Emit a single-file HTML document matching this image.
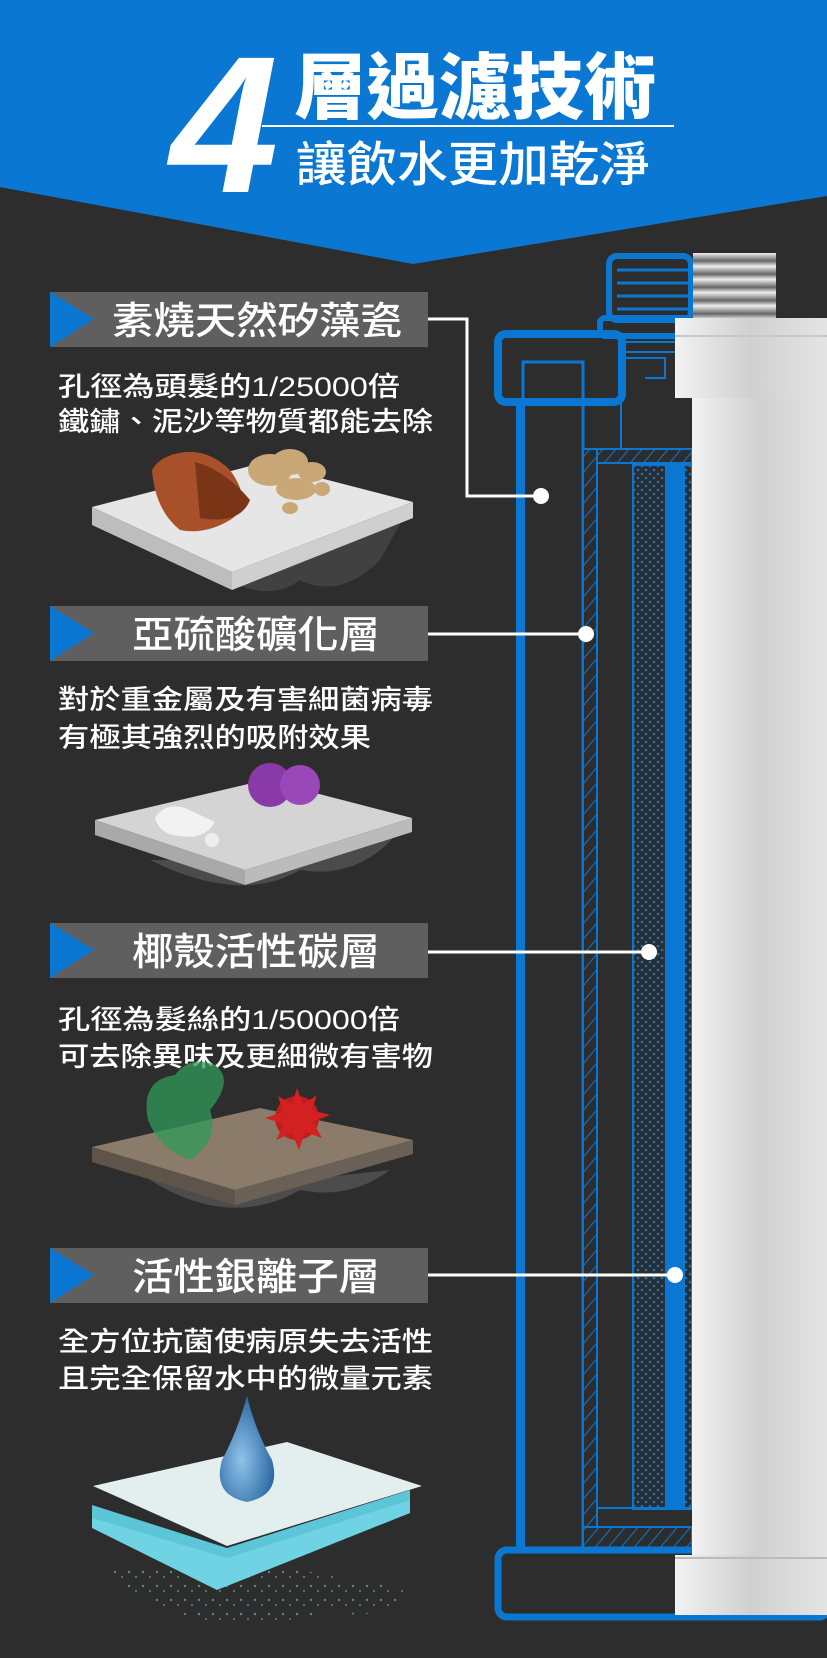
<!DOCTYPE html>
<html><head><meta charset="utf-8"><style>
html,body{margin:0;padding:0;background:#2d2d2d}
svg{display:block}
text{font-family:"Liberation Sans","Noto Sans CJK TC","Noto Sans CJK SC",sans-serif;font-weight:500;fill:#fff}
</style></head><body>
<svg width="827" height="1658" viewBox="0 0 827 1658" xmlns="http://www.w3.org/2000/svg">
<defs>
<pattern id="hatch" width="10" height="10" patternUnits="userSpaceOnUse" patternTransform="rotate(40)">
<rect width="10" height="10" fill="#2d2d2d"/><line x1="0" y1="0" x2="0" y2="10" stroke="#0a78d2" stroke-width="2"/></pattern>
<pattern id="dots" width="8" height="8" patternUnits="userSpaceOnUse">
<rect width="8" height="8" fill="#2d2d2d"/><circle cx="2" cy="2" r="1.3" fill="#0a78d2"/><circle cx="6" cy="6" r="1.3" fill="#0a78d2"/></pattern>
<pattern id="spk" width="14" height="14" patternUnits="userSpaceOnUse">
<circle cx="3" cy="4" r="1.2" fill="#6cc8d8"/><circle cx="10" cy="9" r="1" fill="#6cc8d8"/></pattern>
<linearGradient id="cyl" x1="0" x2="1"><stop offset="0" stop-color="#f2f2f2"/><stop offset=".5" stop-color="#d0d0d0"/><stop offset="1" stop-color="#e4e4e4"/></linearGradient>
<linearGradient id="metal" x1="0" y1="0" x2="0" y2="1">
<stop offset="0" stop-color="#eee"/><stop offset=".12" stop-color="#666"/><stop offset=".2" stop-color="#eee"/><stop offset=".32" stop-color="#666"/><stop offset=".4" stop-color="#eee"/><stop offset=".52" stop-color="#666"/><stop offset=".6" stop-color="#eee"/><stop offset=".72" stop-color="#666"/><stop offset=".8" stop-color="#eee"/><stop offset=".92" stop-color="#666"/><stop offset="1" stop-color="#ddd"/></linearGradient>
<radialGradient id="drop" cx=".4" cy=".6" r=".6"><stop offset="0" stop-color="#8fc3ea"/><stop offset="1" stop-color="#2d6aa3"/></radialGradient>
</defs>
<rect width="827" height="1658" fill="#2d2d2d"/>
<polygon points="0,0 827,0 827,196 413,264 0,187" fill="#0a78d2"/>
<text x="170" y="192" font-size="195" font-style="italic" style="font-weight:900">4</text>
<text x="294" y="113" font-size="72" style="font-weight:900" textLength="362" lengthAdjust="spacingAndGlyphs">層過濾技術</text>
<rect x="262" y="125" width="412" height="2" fill="#fff"/>
<text x="296" y="181" font-size="48" textLength="354" lengthAdjust="spacingAndGlyphs">讓飲水更加乾淨</text>

<g fill="none" stroke="#0a78d2">
<rect x="609" y="256" width="82" height="64" rx="8" stroke-width="6"/>
<line x1="617" y1="270" x2="690" y2="270" stroke-width="3"/>
<line x1="617" y1="283" x2="690" y2="283" stroke-width="3"/>
<line x1="617" y1="296" x2="690" y2="296" stroke-width="3"/>
<line x1="617" y1="309" x2="690" y2="309" stroke-width="3"/>
<rect x="600" y="318" width="90" height="18" rx="5" stroke-width="6"/>
<rect x="498" y="334" width="124" height="68" rx="8" stroke-width="8"/>
<rect x="523" y="362" width="60" height="1190" stroke-width="3"/>
<rect x="583" y="400" width="38" height="50" stroke-width="2"/>
<rect x="624" y="342" width="52" height="10" stroke-width="2"/>
<path d="M621 358 H665 V378 H645" stroke-width="2"/>
</g>
<rect x="516" y="398" width="9" height="1152" fill="#0a78d2"/>
<rect x="583" y="449" width="109" height="14" fill="url(#hatch)" stroke="#0a78d2" stroke-width="2"/>
<rect x="583" y="449" width="14" height="1105" fill="url(#hatch)" stroke="#0a78d2" stroke-width="2"/>
<rect x="583" y="1527" width="109" height="26" fill="url(#hatch)" stroke="#0a78d2" stroke-width="2"/>
<rect x="633" y="465" width="59" height="1044" fill="url(#dots)" stroke="#0a78d2" stroke-width="2"/>
<rect x="665" y="465" width="20" height="1044" fill="#0a78d2"/>
<line x1="597" y1="1508" x2="692" y2="1508" stroke="#0a78d2" stroke-width="2"/>
<rect x="498" y="1550" width="330" height="67" rx="9" fill="#2d2d2d" stroke="#0a78d2" stroke-width="7"/>
<rect x="693" y="253" width="83" height="66" fill="url(#metal)"/>
<rect x="692" y="398" width="135" height="1160" fill="url(#cyl)"/>
<rect x="675" y="318" width="152" height="80" fill="url(#cyl)"/>
<line x1="675" y1="336" x2="827" y2="336" stroke="#c8c8c8" stroke-width="2"/>
<rect x="675" y="1555" width="152" height="60" fill="url(#cyl)"/>
<line x1="675" y1="1558" x2="827" y2="1558" stroke="#bbb" stroke-width="2"/>

<g>
<rect x="50" y="292" width="378" height="55" fill="#5f5f5f"/><polygon points="50,292 94,319 50,347" fill="#0a78d2"/>
<text x="112" y="334" font-size="38" textLength="290" lengthAdjust="spacingAndGlyphs">素燒天然矽藻瓷</text>
<rect x="50" y="606" width="378" height="55" fill="#5f5f5f"/><polygon points="50,606 94,633 50,661" fill="#0a78d2"/>
<text x="132" y="648" font-size="38" textLength="248" lengthAdjust="spacingAndGlyphs">亞硫酸礦化層</text>
<rect x="50" y="923" width="378" height="55" fill="#5f5f5f"/><polygon points="50,923 94,950 50,978" fill="#0a78d2"/>
<text x="132" y="965" font-size="38" textLength="248" lengthAdjust="spacingAndGlyphs">椰殼活性碳層</text>
<rect x="50" y="1248" width="378" height="55" fill="#5f5f5f"/><polygon points="50,1248 94,1275 50,1303" fill="#0a78d2"/>
<text x="132" y="1290" font-size="38" textLength="248" lengthAdjust="spacingAndGlyphs">活性銀離子層</text>
</g>
<g stroke="#fff" stroke-width="3" fill="none">
<path d="M428 319 H467 V496 H541"/>
<line x1="428" y1="634" x2="586" y2="634"/>
<line x1="428" y1="952" x2="649" y2="952"/>
<line x1="428" y1="1275" x2="675" y2="1275"/>
</g>
<g fill="#fff"><circle cx="541" cy="496" r="8"/><circle cx="586" cy="634" r="8"/><circle cx="649" cy="952" r="8"/><circle cx="675" cy="1275" r="8"/></g>

<g>
<text x="58" y="396" font-size="27" textLength="342" lengthAdjust="spacingAndGlyphs">孔徑為頭髮的1/25000倍</text>
<text x="58" y="431" font-size="27" textLength="375" lengthAdjust="spacingAndGlyphs">鐵鏽、泥沙等物質都能去除</text>
<text x="58" y="709" font-size="27" textLength="375" lengthAdjust="spacingAndGlyphs">對於重金屬及有害細菌病毒</text>
<text x="58" y="747" font-size="27" textLength="313" lengthAdjust="spacingAndGlyphs">有極其強烈的吸附效果</text>
<text x="58" y="1029" font-size="27" textLength="342" lengthAdjust="spacingAndGlyphs">孔徑為髮絲的1/50000倍</text>
<text x="58" y="1066" font-size="27" textLength="375" lengthAdjust="spacingAndGlyphs">可去除異味及更細微有害物</text>
<text x="58" y="1351" font-size="27" textLength="375" lengthAdjust="spacingAndGlyphs">全方位抗菌使病原失去活性</text>
<text x="58" y="1388" font-size="27" textLength="375" lengthAdjust="spacingAndGlyphs">且完全保留水中的微量元素</text>
</g>

<g>
<path d="M200 560 Q260 610 300 580 Q340 600 380 560 L405 515 L300 560 Z" fill="#555" opacity=".5"/>
<polygon points="92,507 262,463 413,502 232,572" fill="#e6e6e6"/>
<polygon points="92,507 232,572 232,590 92,525" fill="#bdbdbd"/>
<polygon points="232,572 413,502 413,518 232,590" fill="#cfcfcf"/>
<path d="M152 470 Q160 455 185 452 Q210 450 230 470 Q255 505 230 520 Q205 535 180 530 Q155 510 152 470Z" fill="#a8502a"/>
<path d="M195 462 Q225 470 250 500 Q240 525 200 518 Z" fill="#7a3416"/>
<ellipse cx="270" cy="470" rx="22" ry="16" fill="#c9a777"/>
<ellipse cx="290" cy="462" rx="18" ry="13" fill="#c8a676"/>
<ellipse cx="312" cy="472" rx="14" ry="10" fill="#c9a777"/>
<ellipse cx="296" cy="489" rx="20" ry="11" fill="#c9a777"/>
<ellipse cx="322" cy="489" rx="8" ry="7" fill="#c9a777"/>
<ellipse cx="290" cy="508" rx="8" ry="6" fill="#c9a777"/>
</g>
<g>
<path d="M150 860 Q240 905 300 870 Q360 880 400 830 L300 860Z" fill="#777" opacity=".4"/>
<polygon points="95,820 265,780 412,818 245,870" fill="#d4d4d4"/>
<polygon points="95,820 245,870 245,885 95,835" fill="#a9a9a9"/>
<polygon points="245,870 412,818 412,832 245,885" fill="#bbb"/>
<path d="M155 818 Q165 802 185 808 Q200 815 215 822 Q205 840 180 836 Q160 835 155 818Z" fill="#f2f2f2"/>
<circle cx="212" cy="840" r="7" fill="#eee"/>
<circle cx="270" cy="785" r="22" fill="#8a3aa8"/>
<circle cx="300" cy="785" r="20" fill="#9a48b8"/>
</g>
<g>
<path d="M150 1180 Q230 1230 300 1190 Q350 1200 390 1170 L300 1180Z" fill="#888" opacity=".35"/>
<polygon points="92,1147 260,1108 413,1140 235,1190" fill="#8a7b6a"/>
<polygon points="92,1147 235,1190 235,1205 92,1162" fill="#5e544a"/>
<polygon points="235,1190 413,1140 413,1154 235,1205" fill="#6b6055"/>
<path d="M148 1120 Q140 1080 175 1075 Q190 1055 215 1065 Q235 1080 210 1110 Q220 1140 190 1160 Q160 1150 148 1120Z" fill="#2f9a5a" opacity=".75"/>
<circle cx="297" cy="1118" r="22" fill="#c01d1d"/>
<polygon points="297,1088 303,1104 317,1095 312,1110 330,1115 313,1122 322,1138 305,1132 299,1150 292,1133 276,1140 284,1124 265,1118 283,1112 278,1096 292,1104" fill="#d32020"/>
</g>
<g>
<path d="M100 1570 Q200 1650 330 1610 Q380 1625 410 1590 L300 1570 Z" fill="url(#spk)" opacity=".6"/>
<polygon points="92,1515 92,1528 217,1590 410,1513 410,1496 227,1555" fill="#6fd3e3"/>
<polygon points="92,1505 227,1548 410,1490 410,1500 227,1558 92,1518" fill="#5cc5d8"/>
<polygon points="93,1486 287,1442 422,1486 227,1546" fill="#e3efef"/>
<path d="M247 1396 Q255 1430 272 1460 Q282 1495 247 1502 Q212 1495 222 1460 Q238 1430 247 1396Z" fill="url(#drop)"/>
</g>
</svg>
</body></html>
